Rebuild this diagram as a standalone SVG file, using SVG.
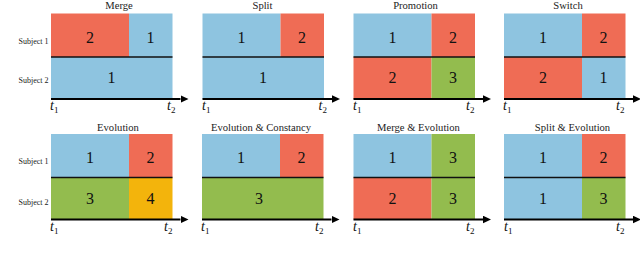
<svg xmlns="http://www.w3.org/2000/svg" width="640" height="253" viewBox="0 0 640 253" font-family="'Liberation Serif', 'Times New Roman', serif">
<style>
.b{fill:#8EC4E0}.r{fill:#EF6C55}.g{fill:#93BC4E}.o{fill:#F3B40C}
.div{stroke:#111;stroke-width:1.4}
.ax{stroke:#000;stroke-width:1.8;fill:none}
text{font-family:'Liberation Serif','Times New Roman',serif}
.num{font-size:16px;fill:#111;text-anchor:middle}
.ttl{font-size:10.6px;fill:#222;text-anchor:middle}
.sub{font-size:8px;fill:#222;text-anchor:end}
.t{font-size:14px;font-style:italic;fill:#111}
.ts{font-size:9px;font-style:normal}
</style>
<defs>
<marker id="ah" markerUnits="userSpaceOnUse" markerWidth="8" markerHeight="8" refX="0" refY="3.75" orient="auto" viewBox="0 0 8 7.5">
<path d="M0,0 L8,3.75 L0,7.5 z" fill="#000"/>
</marker>
</defs>
<g id="labels">
<text class="sub" x="48.5" y="44">Subject 1</text>
<text class="sub" x="48.5" y="82.5">Subject 2</text>
<text class="sub" x="48.5" y="164">Subject 1</text>
<text class="sub" x="48.5" y="204.5">Subject 2</text>
</g>
<g id="merge" transform="translate(51,13.5)">
<rect class="r" x="0" y="0" width="78" height="43.5"/><rect class="b" x="78" y="0" width="43.5" height="43.5"/>
<rect class="b" x="0" y="43.5" width="121.5" height="42"/>
<text class="num" x="39" y="29.5">2</text><text class="num" x="99.5" y="29.5">1</text><text class="num" x="60.5" y="69.5">1</text>
<text class="ttl" x="68" y="-4.5">Merge</text>
</g>
<g id="split" transform="translate(202.5,13.5)">
<rect class="b" x="0" y="0" width="78" height="43.5"/><rect class="r" x="78" y="0" width="43.5" height="43.5"/>
<rect class="b" x="0" y="43.5" width="121.5" height="42"/>
<text class="num" x="39" y="29.5">1</text><text class="num" x="99.5" y="29.5">2</text><text class="num" x="60.5" y="69.5">1</text>
<text class="ttl" x="60" y="-4.5">Split</text>
</g>
<g id="promotion" transform="translate(353.5,13.5)">
<rect class="b" x="0" y="0" width="78" height="43.5"/><rect class="r" x="78" y="0" width="43.5" height="43.5"/>
<rect class="r" x="0" y="43.5" width="78" height="42"/><rect class="g" x="78" y="43.5" width="43.5" height="42"/>
<text class="num" x="39" y="29.5">1</text><text class="num" x="99.5" y="29.5">2</text><text class="num" x="39" y="69.5">2</text><text class="num" x="99.5" y="69.5">3</text>
<text class="ttl" x="62" y="-4.5">Promotion</text>
</g>
<g id="switch" transform="translate(504,13.5)">
<rect class="b" x="0" y="0" width="78" height="43.5"/><rect class="r" x="78" y="0" width="43.5" height="43.5"/>
<rect class="r" x="0" y="43.5" width="78" height="42"/><rect class="b" x="78" y="43.5" width="43.5" height="42"/>
<text class="num" x="39" y="29.5">1</text><text class="num" x="99.5" y="29.5">2</text><text class="num" x="39" y="69.5">2</text><text class="num" x="99.5" y="69.5">1</text>
<text class="ttl" x="64" y="-4.5">Switch</text>
</g>
<g id="evolution" transform="translate(51,134)">
<rect class="b" x="0" y="0" width="78" height="43.5"/><rect class="r" x="78" y="0" width="43.5" height="43.5"/>
<rect class="g" x="0" y="43.5" width="78" height="42"/><rect class="o" x="78" y="43.5" width="43.5" height="42"/>
<text class="num" x="39" y="28.5">1</text><text class="num" x="99.5" y="28.5">2</text><text class="num" x="39" y="69.5">3</text><text class="num" x="99.5" y="69.5">4</text>
<text class="ttl" x="67" y="-3.5">Evolution</text>
</g>
<g id="evolution-constancy" transform="translate(202,134)">
<rect class="b" x="0" y="0" width="78" height="43.5"/><rect class="r" x="78" y="0" width="43.5" height="43.5"/>
<rect class="g" x="0" y="43.5" width="121.5" height="42"/>
<text class="num" x="39" y="28.5">1</text><text class="num" x="99.5" y="28.5">2</text><text class="num" x="57" y="69.5">3</text>
<text class="ttl" x="59" y="-3.5">Evolution &amp; Constancy</text>
</g>
<g id="merge-evolution" transform="translate(353.5,134)">
<rect class="b" x="0" y="0" width="78" height="43.5"/><rect class="g" x="78" y="0" width="43.5" height="43.5"/>
<rect class="r" x="0" y="43.5" width="78" height="42"/><rect class="g" x="78" y="43.5" width="43.5" height="42"/>
<text class="num" x="39" y="28.5">1</text><text class="num" x="99.5" y="28.5">3</text><text class="num" x="39" y="69.5">2</text><text class="num" x="99.5" y="69.5">3</text>
<text class="ttl" x="65" y="-3.5">Merge &amp; Evolution</text>
</g>
<g id="split-evolution" transform="translate(504,134)">
<rect class="b" x="0" y="0" width="78" height="43.5"/><rect class="r" x="78" y="0" width="43.5" height="43.5"/>
<rect class="b" x="0" y="43.5" width="78" height="42"/><rect class="g" x="78" y="43.5" width="43.5" height="42"/>
<text class="num" x="39" y="28.5">1</text><text class="num" x="99.5" y="28.5">2</text><text class="num" x="39" y="69.5">1</text><text class="num" x="99.5" y="69.5">3</text>
<text class="ttl" x="68.5" y="-3.5">Split &amp; Evolution</text>
</g>
<g id="connectors">
<g class="div">
<line x1="51" y1="57" x2="172.5" y2="57"/><line x1="202.5" y1="57" x2="324" y2="57"/><line x1="353.5" y1="57" x2="475" y2="57"/><line x1="504" y1="57" x2="625.5" y2="57"/>
<line x1="51" y1="177.5" x2="172.5" y2="177.5"/><line x1="202" y1="177.5" x2="323.5" y2="177.5"/><line x1="353.5" y1="177.5" x2="475" y2="177.5"/><line x1="504" y1="177.5" x2="625.5" y2="177.5"/>
</g>
<g class="ax">
<line x1="51" y1="99" x2="180.5" y2="99" marker-end="url(#ah)"/><line x1="202.5" y1="99" x2="332" y2="99" marker-end="url(#ah)"/><line x1="353.5" y1="99" x2="483" y2="99" marker-end="url(#ah)"/><line x1="504" y1="99" x2="633" y2="99" marker-end="url(#ah)"/>
<line x1="51" y1="219.5" x2="180.5" y2="219.5" marker-end="url(#ah)"/><line x1="202" y1="219.5" x2="331.5" y2="219.5" marker-end="url(#ah)"/><line x1="353.5" y1="219.5" x2="483" y2="219.5" marker-end="url(#ah)"/><line x1="504" y1="219.5" x2="633" y2="219.5" marker-end="url(#ah)"/>
</g>
</g>
<g id="time-labels">
<text class="t" x="50" y="110">t<tspan class="ts" dy="2.5">1</tspan></text><text class="t" x="167" y="110">t<tspan class="ts" dy="2.5">2</tspan></text>
<text class="t" x="202" y="110">t<tspan class="ts" dy="2.5">1</tspan></text><text class="t" x="318.5" y="110">t<tspan class="ts" dy="2.5">2</tspan></text>
<text class="t" x="353" y="110">t<tspan class="ts" dy="2.5">1</tspan></text><text class="t" x="466" y="110">t<tspan class="ts" dy="2.5">2</tspan></text>
<text class="t" x="503" y="110">t<tspan class="ts" dy="2.5">1</tspan></text><text class="t" x="616" y="110">t<tspan class="ts" dy="2.5">2</tspan></text>
<text class="t" x="50" y="231">t<tspan class="ts" dy="2.5">1</tspan></text><text class="t" x="164" y="231">t<tspan class="ts" dy="2.5">2</tspan></text>
<text class="t" x="201" y="231">t<tspan class="ts" dy="2.5">1</tspan></text><text class="t" x="315" y="231">t<tspan class="ts" dy="2.5">2</tspan></text>
<text class="t" x="353" y="231">t<tspan class="ts" dy="2.5">1</tspan></text><text class="t" x="466" y="231">t<tspan class="ts" dy="2.5">2</tspan></text>
<text class="t" x="504" y="231">t<tspan class="ts" dy="2.5">1</tspan></text><text class="t" x="616" y="231">t<tspan class="ts" dy="2.5">2</tspan></text>
</g>
</svg>
